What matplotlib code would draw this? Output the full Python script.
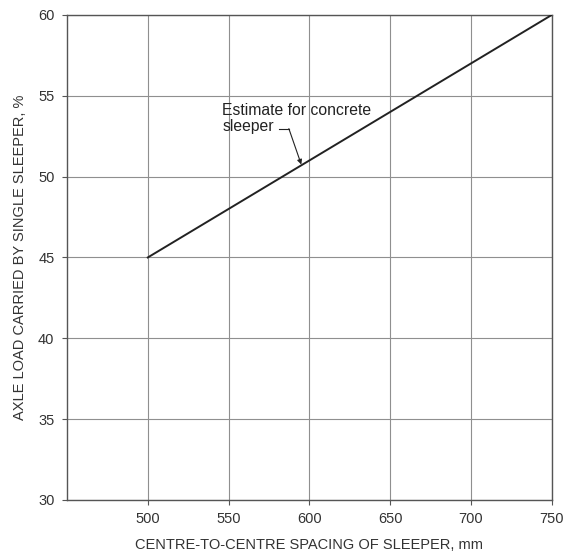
import matplotlib
matplotlib.use("Agg")
import matplotlib.pyplot as plt

plt.rcParams['font.family'] = ['Liberation Sans', 'DejaVu Sans']

spacing = [500, 750]
load_pct = [45, 60]
x_ticks = [500, 550, 600, 650, 700, 750]
y_ticks = [30, 35, 40, 45, 50, 55, 60]
annot_text = "Estimate for concrete\nsleeper"

fig = plt.figure(figsize=(5.63, 5.54), dpi=100)
ax = fig.add_axes([0.119, 0.0975, 0.861, 0.8755])

ax.plot(spacing, load_pct, color='#222222', lw=1.4, zorder=3)

ax.set_xlim(450, 750)
ax.set_ylim(30, 60)
ax.set_xticks(x_ticks)
ax.set_yticks(y_ticks)
ax.grid(True, color='#8f8f8f', lw=0.8)
ax.set_axisbelow(True)
for s in ax.spines.values():
    s.set_color('#555555')
    s.set_linewidth(1.0)
ax.tick_params(direction='out', length=3.5, width=0.8, color='#555555',
               labelsize=10.5, labelcolor='#333333', pad=5.5)

ax.set_xlabel("CENTRE-TO-CENTRE SPACING OF SLEEPER, mm", fontsize=10.5,
              color='#333333', labelpad=8.5)
ax.set_ylabel("AXLE LOAD CARRIED BY SINGLE SLEEPER, %", fontsize=10.5,
              color='#333333', labelpad=8)

ax.text(546, 52.84, annot_text, fontsize=11.3, color='#222222',
        va='baseline', ha='left', linespacing=1.05, zorder=4)
ax.plot([581.1, 587.3], [52.97, 52.97], color='#222222', lw=0.8, zorder=4)
ax.annotate("", xy=(595, 50.75), xytext=(587.3, 52.97),
            arrowprops=dict(arrowstyle='-|>', color='#222222', lw=0.8,
                            mutation_scale=7, shrinkA=0, shrinkB=0),
            zorder=4)

fig.savefig("out.png", dpi=100)
